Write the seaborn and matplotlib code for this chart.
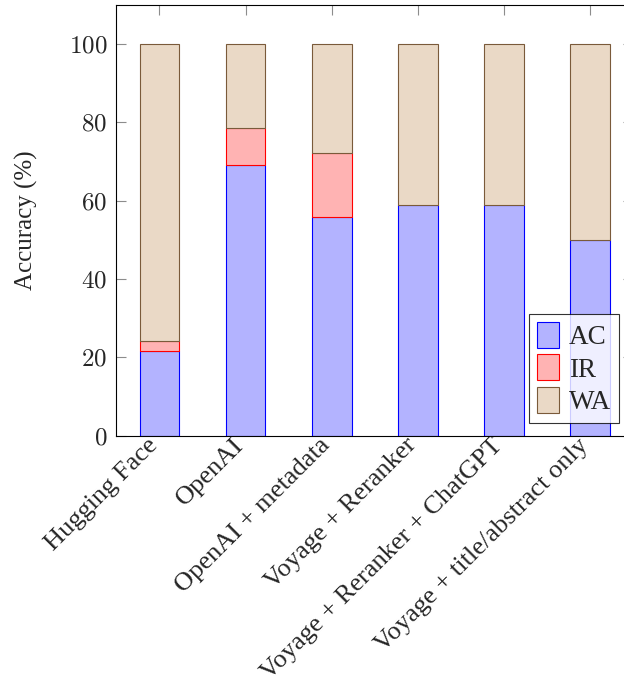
import pandas as pd
import matplotlib.pyplot as plt
import matplotlib.transforms as mtransforms
import seaborn as sns

# data (percent)
methods = ["Hugging Face", "OpenAI", "OpenAI + metadata", "Voyage + Reranker",
           "Voyage + Reranker + ChatGPT", "Voyage + title/abstract only"]
ac = [21.6, 69.2, 55.9, 58.8, 58.8, 50.0]
ir = [2.7, 9.4, 16.2, 0.0, 0.0, 0.0]
wa = [75.7, 21.4, 27.9, 41.2, 41.2, 50.0]

df = pd.DataFrame({"method": methods, "AC": ac, "IR": ir, "WA": wa})
df["AC_IR"] = df["AC"] + df["IR"]

sns.set_style("white")
plt.rcParams["font.family"] = ["Liberation Serif", "DejaVu Serif"]
plt.rcParams["mathtext.fontset"] = "cm"

fig = plt.figure(figsize=(6.24, 6.76), dpi=100)
ax = fig.add_axes([116.3 / 624, (676 - 435.7) / 676, 517 / 624, (435.7 - 5) / 676])

styles = {
    "AC": ("#b3b3ff", "#0000ff"),
    "IR": ("#ffb3b3", "#ff0000"),
    "WA": ("#ead9c6", "#7a5a3a"),
}

sns.barplot(data=df, x="method", y="AC", color=styles["AC"][0], edgecolor=styles["AC"][1],
            linewidth=0.8, width=0.46, saturation=1, ax=ax, label="AC")
sns.barplot(data=df, x="method", y="IR", bottom=df["AC"], color=styles["IR"][0],
            edgecolor=styles["IR"][1], linewidth=0.8, width=0.46, saturation=1, ax=ax, label="IR")
sns.barplot(data=df, x="method", y="WA", bottom=df["AC_IR"], color=styles["WA"][0],
            edgecolor=styles["WA"][1], linewidth=0.8, width=0.46, saturation=1, ax=ax, label="WA")

# drop the zero-height IR rectangles so no red edge shows on top of blue bars
for p in ax.patches:
    if p.get_height() == 0:
        p.set_visible(False)

ax.set_xlim(-0.5, 5.5)
ax.set_ylim(0, 110)
ax.set_yticks([0, 20, 40, 60, 80, 100])
ax.set_yticklabels([f"${v}$" for v in [0, 20, 40, 60, 80, 100]])
ax.set_xticks(range(len(methods)))
ax.set_xticklabels(methods, rotation=45, ha="right", va="center", rotation_mode="anchor",
                   fontsize=19)

ax.set_xlabel("")
ax.set_ylabel("Accuracy (%)", fontsize=18, labelpad=22)

ax.tick_params(axis="both", which="major", direction="in", length=7.5, width=0.8,
               color="#8c8c8c", top=True, right=True, left=True, bottom=True)
ax.tick_params(axis="y", pad=6.5, labelsize=18)
ax.tick_params(axis="x", pad=4.5)

# nudge the rotated labels a little to the left
shift = mtransforms.ScaledTranslation(-5 / 100, 0, fig.dpi_scale_trans)
for lab in ax.get_xticklabels():
    lab.set_transform(lab.get_transform() + shift)

for s in ax.spines.values():
    s.set_visible(True)
    s.set_color("black")
    s.set_linewidth(0.8)

leg = ax.legend(loc="lower right", bbox_to_anchor=((619 - 116.3) / 517, (435.7 - 423) / 430.7),
                fontsize=19.5, frameon=True, fancybox=False, edgecolor="black",
                handlelength=0.8, handleheight=1.1, handletextpad=0.35, labelspacing=0.15,
                borderpad=0.3, borderaxespad=0)
leg.get_frame().set_linewidth(0.8)

plt.savefig("out.png", dpi=100)
